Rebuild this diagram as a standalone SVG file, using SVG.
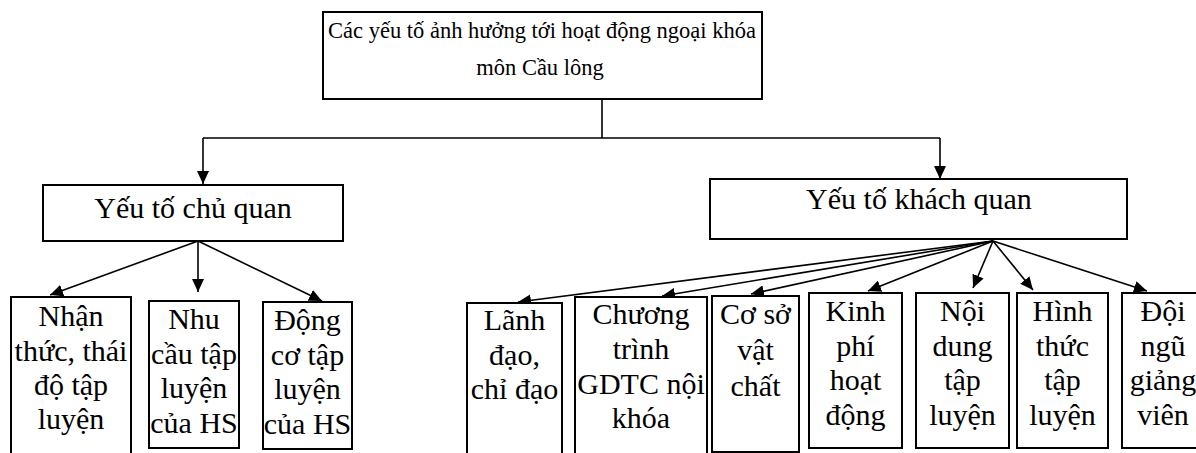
<svg xmlns="http://www.w3.org/2000/svg" width="1196" height="453" viewBox="0 0 1196 453">
<style>
.box{fill:#fff;stroke:#000;stroke-width:2}
.t{font-family:"Liberation Serif","Times New Roman",serif;font-size:30px;fill:#000;text-anchor:middle}
.tt{font-family:"Liberation Serif","Times New Roman",serif;font-size:22.5px;fill:#000;text-anchor:middle}
.ln{fill:none;stroke:#000;stroke-width:1.6}
</style>
<defs>
<marker id="ah" markerUnits="userSpaceOnUse" markerWidth="14" markerHeight="12" refX="13" refY="6" orient="auto">
<path d="M0,0 L13,6 L0,12 z" fill="#000"/>
</marker>
</defs>
<rect width="1196" height="453" fill="#fff"/>
<g id="connectors">
<path class="ln" d="M602,99 V138 M203,138 H940"/>
<path class="ln" d="M203,138 V184" marker-end="url(#ah)"/>
<path class="ln" d="M940,138 V179" marker-end="url(#ah)"/>
<path class="ln" d="M198,241 L50,295" marker-end="url(#ah)"/>
<path class="ln" d="M198,241 L198,292" marker-end="url(#ah)"/>
<path class="ln" d="M198,241 L322,301" marker-end="url(#ah)"/>
<path class="ln" d="M993,241 L518,302" marker-end="url(#ah)"/>
<path class="ln" d="M993,241 L662,296" marker-end="url(#ah)"/>
<path class="ln" d="M993,241 L751,294" marker-end="url(#ah)"/>
<path class="ln" d="M993,241 L868,291" marker-end="url(#ah)"/>
<path class="ln" d="M993,241 L973,288" marker-end="url(#ah)"/>
<path class="ln" d="M993,241 L1033,290" marker-end="url(#ah)"/>
<path class="ln" d="M993,241 L1147,291" marker-end="url(#ah)"/>
</g>
<g id="root">
<rect class="box" x="323" y="12" width="439" height="87"/>
<text class="tt" x="542" y="38">Các yếu tố ảnh hưởng tới hoạt động ngoại khóa</text>
<text class="tt" x="540" y="75">môn Cầu lông</text>
</g>
<g id="chuquan">
<rect class="box" x="43" y="185" width="300" height="56"/>
<text class="t" x="193" y="218">Yếu tố chủ quan</text>
</g>
<g id="khachquan">
<rect class="box" x="710" y="179" width="417" height="60"/>
<text class="t" x="919" y="209">Yếu tố khách quan</text>
</g>
<g id="nhanthuc">
<rect class="box" x="11" y="297" width="120" height="170"/>
<text class="t" x="71" y="326">Nhận</text>
<text class="t" x="71" y="361">thức, thái</text>
<text class="t" x="71" y="395">độ tập</text>
<text class="t" x="71" y="429">luyện</text>
</g>
<g id="nhucau">
<rect class="box" x="149" y="301" width="90" height="147"/>
<text class="t" x="194" y="329">Nhu</text>
<text class="t" x="194" y="364">cầu tập</text>
<text class="t" x="194" y="398">luyện</text>
<text class="t" x="194" y="433">của HS</text>
</g>
<g id="dongco">
<rect class="box" x="263" y="302" width="89" height="147"/>
<text class="t" x="307.5" y="330">Động</text>
<text class="t" x="307.5" y="365">cơ tập</text>
<text class="t" x="307.5" y="399">luyện</text>
<text class="t" x="307.5" y="434">của HS</text>
</g>
<g id="lanhdao">
<rect class="box" x="467" y="303" width="95" height="170"/>
<text class="t" x="514.5" y="330">Lãnh</text>
<text class="t" x="514.5" y="365">đạo,</text>
<text class="t" x="514.5" y="399">chỉ đạo</text>
</g>
<g id="chuongtrinh">
<rect class="box" x="575" y="297" width="132" height="170"/>
<text class="t" x="641" y="324">Chương</text>
<text class="t" x="641" y="359">trình</text>
<text class="t" x="641" y="394">GDTC nội</text>
<text class="t" x="641" y="428">khóa</text>
</g>
<g id="cosovatchat">
<rect class="box" x="712" y="296" width="87" height="156"/>
<text class="t" x="755.5" y="324">Cơ sở</text>
<text class="t" x="755.5" y="360">vật</text>
<text class="t" x="755.5" y="396">chất</text>
</g>
<g id="kinhphi">
<rect class="box" x="809" y="293" width="93" height="155"/>
<text class="t" x="855.5" y="321">Kinh</text>
<text class="t" x="855.5" y="356">phí</text>
<text class="t" x="855.5" y="390">hoạt</text>
<text class="t" x="855.5" y="425">động</text>
</g>
<g id="noidung">
<rect class="box" x="916" y="293" width="93" height="155"/>
<text class="t" x="962.5" y="321">Nội</text>
<text class="t" x="962.5" y="356">dung</text>
<text class="t" x="962.5" y="390">tập</text>
<text class="t" x="962.5" y="425">luyện</text>
</g>
<g id="hinhthuc">
<rect class="box" x="1017" y="293" width="91" height="155"/>
<text class="t" x="1062.5" y="321">Hình</text>
<text class="t" x="1062.5" y="356">thức</text>
<text class="t" x="1062.5" y="390">tập</text>
<text class="t" x="1062.5" y="425">luyện</text>
</g>
<g id="doingu">
<rect class="box" x="1122" y="293" width="90" height="155"/>
<text class="t" x="1163" y="321">Đội</text>
<text class="t" x="1163" y="356">ngũ</text>
<text class="t" x="1163" y="390">giảng</text>
<text class="t" x="1163" y="425">viên</text>
</g>
</svg>
